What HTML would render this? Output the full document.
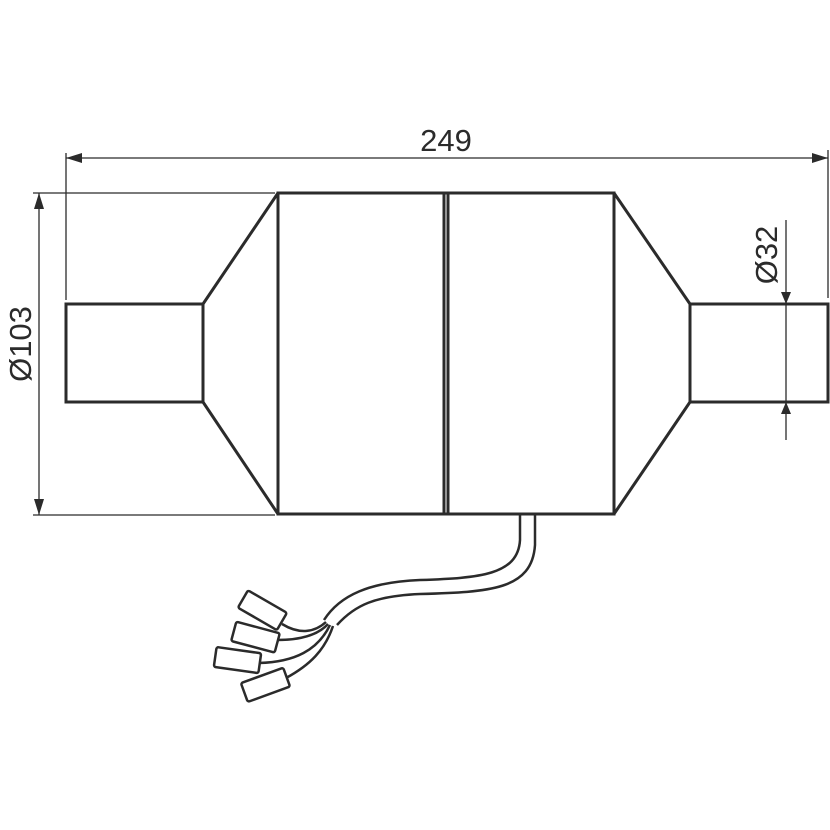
<!DOCTYPE html>
<html><head><style>body{margin:0;background:#fff}svg{display:block}</style></head><body>
<svg width="830" height="830" viewBox="0 0 830 830" xmlns="http://www.w3.org/2000/svg">
<g fill="none" stroke="#2b2b2b" stroke-width="3">
<rect x="66" y="304" width="137" height="98"/>
<rect x="690" y="304" width="138" height="98"/>
<rect x="278" y="193" width="336" height="321"/>
<line x1="444" y1="193" x2="444" y2="514"/>
<line x1="448" y1="193" x2="448" y2="514"/>
<polyline points="203,304 278,193"/><polyline points="203,402 278,514"/>
<polyline points="690,304 614,193"/><polyline points="690,402 614,514"/>
<path d="M520,514 L520,540 C518,575 480,578 420,580 C370,582 340,595 324,620" stroke-width="2.5"/>
<path d="M535,514 L535,545 C532,590 490,592 420,594 C375,596 355,605 337,625" stroke-width="2.5"/>
<g stroke-width="2.5">
<path d="M282,624 C300,635 315,632 326,622"/>
<path d="M277,640 C300,640 318,635 328,624"/>
<path d="M259,663 C295,662 318,650 330,625"/>
<path d="M286,678 C310,665 325,650 333,626"/>
<rect x="240" y="600" width="45" height="20" rx="2" transform="rotate(30 262 610)"/>
<rect x="233" y="627" width="45" height="20" rx="2" transform="rotate(15 255 637)"/>
<rect x="215" y="650" width="45" height="20" rx="2" transform="rotate(8 237 660)"/>
<rect x="243" y="675" width="45" height="20" rx="2" transform="rotate(-20 265 685)"/>
</g>
</g>
<g stroke="#2b2b2b" stroke-width="1.3" fill="none">
<line x1="66" y1="153" x2="66" y2="300"/><line x1="828" y1="150" x2="828" y2="298"/>
<line x1="66" y1="158" x2="828" y2="158"/>
<line x1="39" y1="193" x2="39" y2="515"/>
<line x1="33" y1="193" x2="275" y2="193"/><line x1="33" y1="515" x2="275" y2="515"/>
<line x1="786" y1="220" x2="786" y2="440"/>
</g>
<g fill="#2b2b2b">
<polygon points="66,158 82,153 82,163"/><polygon points="828,158 812,153 812,163"/>
<polygon points="39,193 34,209 44,209"/><polygon points="39,515 34,499 44,499"/>
<polygon points="786,304 781,292 791,292"/><polygon points="786,402 781,414 791,414"/>
</g>
<g font-family="Liberation Sans, sans-serif" font-size="31" fill="#2b2b2b" text-anchor="middle">
<text x="446" y="151">249</text>
<text transform="translate(31,344) rotate(-90)">Ø103</text>
<text transform="translate(777,255) rotate(-90)">Ø32</text>
</g>
</svg>
</body></html>
